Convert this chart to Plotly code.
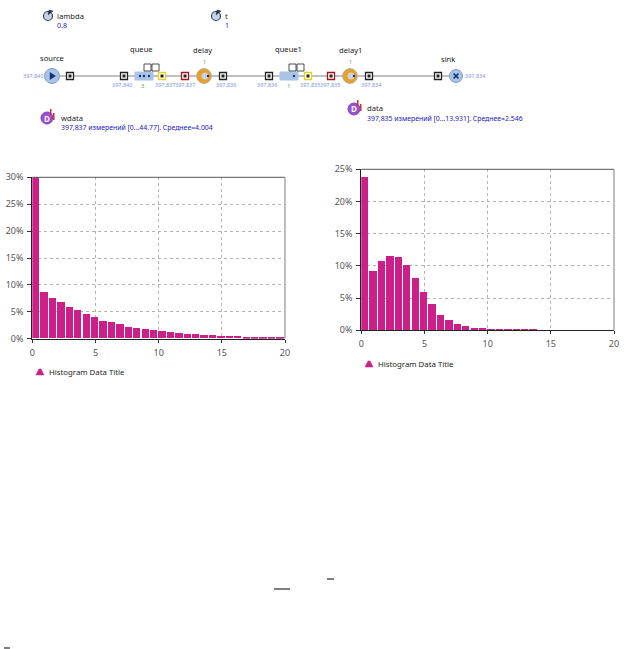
import plotly.graph_objects as go

W, H = 626, 649
BAR_COLOR = "#cc1f8a"
FONT = "Noto Sans"

# histogram values, percent per bin
bin_width = 2 / 3
wdata_pct = [30.0, 8.7, 7.5, 6.8, 5.9, 5.2, 4.5, 3.9, 3.3, 3.0,
             2.6, 2.2, 1.9, 1.7, 1.5, 1.3, 1.2, 1.0, 0.9, 0.8,
             0.7, 0.6, 0.5, 0.45, 0.4, 0.35, 0.3, 0.3, 0.25, 0.25]
data_pct = [23.8, 9.2, 10.7, 11.5, 11.4, 10.1, 8.0, 5.9, 4.0, 2.3,
            1.5, 0.9, 0.6, 0.35, 0.2, 0.15, 0.03, 0.02, 0.01, 0.01,
            0.01, 0, 0, 0, 0, 0, 0, 0, 0, 0]
x_ticks = [0, 5, 10, 15, 20]
wdata_y_ticks = [0, 5, 10, 15, 20, 25, 30]
wdata_y_labels = ["0%", "5%", "10%", "15%", "20%", "25%", "30%"]
data_y_ticks = [0, 5, 10, 15, 20, 25]
data_y_labels = ["0%", "5%", "10%", "15%", "20%", "25%"]
legend_label = "Histogram Data Title"


def px(x):
    return x / W


def py(y):
    return 1 - y / H


shapes = []
notes = []


def line(x0, y0, x1, y1, color="#808080", width=1):
    shapes.append(dict(type="line", xref="paper", yref="paper", x0=px(x0), y0=py(y0), x1=px(x1), y1=py(y1),
                       line=dict(color=color, width=width)))


def rect(x0, y0, x1, y1, fill="rgba(0,0,0,0)", color="#000000", width=1):
    shapes.append(dict(type="rect", xref="paper", yref="paper", x0=px(x0), y0=py(y0), x1=px(x1), y1=py(y1),
                       fillcolor=fill, line=dict(color=color, width=width)))


def circle(cx, cy, r, fill, color, width=1):
    shapes.append(dict(type="circle", xref="paper", yref="paper", x0=px(cx - r), y0=py(cy - r), x1=px(cx + r),
                       y1=py(cy + r), fillcolor=fill, line=dict(color=color, width=width)))


def poly(points, fill, color=None):
    path = "M " + " L ".join("%.5f,%.5f" % (px(x), py(y)) for x, y in points) + " Z"
    shapes.append(dict(type="path", xref="paper", yref="paper", path=path, fillcolor=fill,
                       line=dict(color=color or fill, width=0.5)))


def text(x, y, s, size=9, color="#222222", anchor="left"):
    notes.append(dict(x=px(x), y=py(y), xref="paper", yref="paper", text=s, showarrow=False, xanchor=anchor,
                      yanchor="middle", borderpad=0, borderwidth=0, font=dict(family=FONT, size=size, color=color)))


def port(x, y=76, border="#222222"):
    rect(x - 3.5, y - 3.5, x + 3.5, y + 3.5, fill="#ffffff", color=border, width=1.3)
    rect(x - 1.5, y - 1.5, x + 1.5, y + 1.5, fill="#222222", color="#222222", width=0)


def param_icon(x, y):
    circle(x, y, 4.5, "#c4d4e6", "#33475e", 1.2)
    poly([(x, y - 1), (x + 1, y - 6), (x + 5, y - 5)], "#22344a")


def data_icon(x, y):
    circle(x, y, 6, "#9a4fd0", "#8a3fc0", 1)
    text(x, y, "<b>D</b>", size=8, color="#ffffff", anchor="center")
    rect(x + 3, y - 9, x + 4.5, y - 3, fill="#cc3030", color="#cc3030", width=0)
    rect(x + 6, y - 5, x + 7.5, y + 2, fill="#cc3030", color="#cc3030", width=0)


def queue_box(x0, x1, dots):
    rect(x0, 72, x1, 80, fill="#a9c4e4", color="#a9c4e4")
    for dot_x in dots:
        circle(dot_x, 76, 1.2, "#16307a", "#16307a", 0)
    rect(x1 - 9, 64, x1 - 2, 71, fill="#ffffff", color="#222222", width=0.8)
    rect(x1 - 1, 64, x1 + 6, 71, fill="#ffffff", color="#222222", width=0.8)


def delay_icon(x):
    circle(x, 76, 7.5, "#e8a020", "#b0b8c8", 1)
    circle(x + 1, 76, 3.5, "#c8d4e4", "#c8d4e4", 0)
    circle(x + 4, 76, 1.2, "#16307a", "#16307a", 0)


BLUE = "#7f96e0"
DARK_BLUE = "#2020c8"

# flow chart
line(60, 76, 135, 76)
line(153, 76, 197, 76)
line(212, 76, 280, 76)
line(298, 76, 343, 76)
line(358, 76, 449, 76)

circle(52, 76, 7.5, "#a9c4e4", "#7f9cc8", 1)
poly([(50, 72.5), (50, 79.5), (55.5, 76)], "#16307a")
circle(456, 76, 6.5, "#a9c4e4", "#7f9cc8", 1)
line(453.5, 73.5, 458.5, 78.5, "#16307a", 1.6)
line(453.5, 78.5, 458.5, 73.5, "#16307a", 1.6)

queue_box(135, 153, [140, 144, 149])
queue_box(280, 298, [294])
delay_icon(204)
delay_icon(350)

for port_x in [70, 124, 223, 269, 369, 438]:
    port(port_x)
for port_x in [162, 308]:
    port(port_x, border="#e8d020")
for port_x in [185, 331]:
    port(port_x, border="#a01818")

for label_x, label_y, label in [(40, 58, "source"), (130, 49, "queue"), (193, 50, "delay"), (275, 49, "queue1"),
                                (339, 50, "delay1"), (441, 59, "sink")]:
    text(label_x, label_y, label, size=7.6)

for count_x, count_y, count, anchor in [(43, 76, "397,840", "right"), (112, 85, "397,840", "left"),
                                        (155, 85, "397,837", "left"), (175, 85, "397,837", "left"),
                                        (216, 85, "397,836", "left"), (257, 85, "397,836", "left"),
                                        (300, 85, "397,835", "left"), (320, 85, "397,835", "left"),
                                        (361, 85, "397,834", "left"), (465, 76, "397,834", "left")]:
    text(count_x, count_y, count, size=5.5, color=BLUE, anchor=anchor)

for small_x, small_y, small in [(143, 86, "3"), (288, 86, "1")]:
    text(small_x, small_y, small, size=6, color="#60a060", anchor="center")
for small_x in [204, 350]:
    text(small_x, 62, "1", size=5.5, color="#60a060", anchor="center")

param_icon(48, 16)
text(57, 16, "lambda", size=7.6)
text(57, 25, "0.8", size=7, color=DARK_BLUE)
param_icon(216, 16)
text(225, 16, "t", size=7.6)
text(225, 25, "1", size=7, color=DARK_BLUE)

data_icon(47, 118)
text(61, 117.5, "wdata", size=7.6)
text(61, 127.5, "397,837 измерений [0...44.77]. Среднее=4.004", size=6.9, color=DARK_BLUE)
data_icon(354, 109)
text(367, 108.5, "data", size=7.6)
text(367, 118.5, "397,835 измерений [0...13.931]. Среднее=2.546", size=6.9, color=DARK_BLUE)

# legends
for icon_x, icon_y, label_x in [(40, 372, 49), (369, 364, 378)]:
    poly([(icon_x - 4, icon_y + 3), (icon_x - 2, icon_y - 1), (icon_x - 1, icon_y - 3), (icon_x + 1, icon_y - 3),
          (icon_x + 2, icon_y - 1), (icon_x + 4, icon_y + 3)], BAR_COLOR)
    text(label_x, icon_y, legend_label, size=7.8)

# leftovers at the bottom of the page
line(274, 589, 290, 589, "#000000", 1)
line(327, 579, 334, 579, "#000000", 1)
line(4, 648, 10, 648, "#000000", 1)

# plot frames, top and right edge
for left, top, right, bottom in [(32.3, 177.3, 285, 338.7), (361.3, 169.3, 614, 330.3)]:
    line(left, top, right, top, "#555555", 1)
    line(right, top, right, bottom, "#a8a8a8", 1.5)

fig = go.Figure()
for name, values, xa, ya in [("wdata", wdata_pct, "x", "y"), ("data", data_pct, "x2", "y2")]:
    fig.add_trace(go.Bar(x=[i * bin_width for i in range(len(values))], y=values, width=bin_width * 0.87, offset=0,
                         name=name, marker=dict(color=BAR_COLOR, line=dict(width=0)), xaxis=xa, yaxis=ya,
                         showlegend=False))

grid = dict(showgrid=True, gridcolor="#b4b4b4", griddash="3px,3px", gridwidth=1, zeroline=False)
x_axis = dict(grid, range=[0, 20], tickvals=x_ticks, ticks="outside", ticklen=3, tickcolor="#333333", showline=True,
              linecolor="#222222", linewidth=1, ticklabelstandoff=2,
              tickfont=dict(family=FONT, size=9, color="#555555"))
y_axis = dict(grid, ticks="outside", ticklen=4, tickcolor="#333333", showline=True, linecolor="#222222", linewidth=1,
              ticklabelstandoff=2, tickfont=dict(family=FONT, size=9, color="#555555"))

fig.update_layout(
    width=W, height=H, margin=dict(l=0, r=0, t=0, b=0, pad=0, autoexpand=False), paper_bgcolor="#ffffff",
    plot_bgcolor="#ffffff", showlegend=False, bargap=0, shapes=shapes, annotations=notes,
    xaxis=dict(x_axis, domain=[px(32.3), px(285)], anchor="y"),
    yaxis=dict(y_axis, domain=[py(338.7), py(177.3)], anchor="x", range=[0, 30], tickvals=wdata_y_ticks,
               ticktext=wdata_y_labels),
    xaxis2=dict(x_axis, domain=[px(361.3), px(614)], anchor="y2"),
    yaxis2=dict(y_axis, domain=[py(330.3), py(169.3)], anchor="x2", range=[0, 25], tickvals=data_y_ticks,
                ticktext=data_y_labels),
)

fig.write_html("out.html", config={"displayModeBar": False}, post_script="document.body.style.margin='0';")
